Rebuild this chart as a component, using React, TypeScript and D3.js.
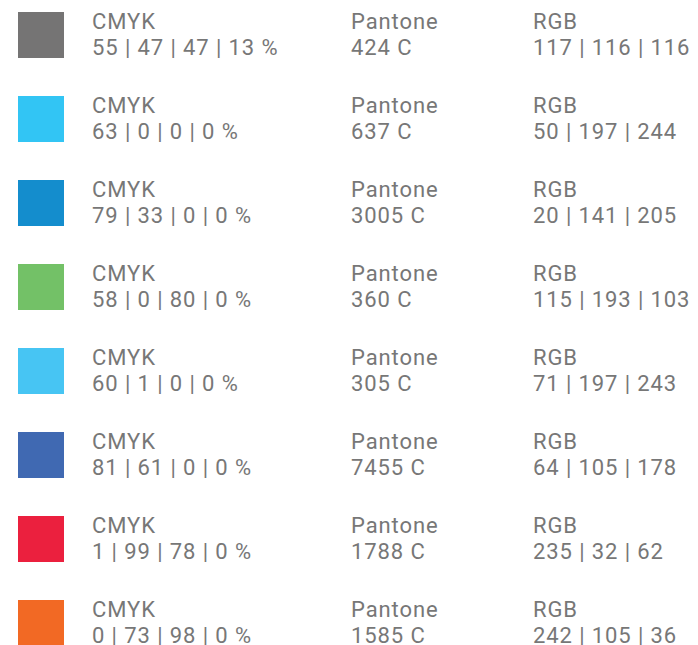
import React, { useRef, useEffect } from 'react';
import * as d3 from 'd3';

const swatchColors = ['#757474', '#32c5f4', '#148dcd', '#73c167', '#47c5f3', '#4069b2', '#eb203e', '#f26924'];
const cmykValues = ['55 | 47 | 47 | 13 %', '63 | 0 | 0 | 0 %', '79 | 33 | 0 | 0 %', '58 | 0 | 80 | 0 %', '60 | 1 | 0 | 0 %', '81 | 61 | 0 | 0 %', '1 | 99 | 78 | 0 %', '0 | 73 | 98 | 0 %'];
const pantoneValues = ['424 C', '637 C', '3005 C', '360 C', '305 C', '7455 C', '1788 C', '1585 C'];
const rgbValues = ['117 | 116 | 116', '50 | 197 | 244', '20 | 141 | 205', '115 | 193 | 103', '71 | 197 | 243', '64 | 105 | 178', '235 | 32 | 62', '242 | 105 | 36'];
const columnLabels = ['CMYK', 'Pantone', 'RGB'];

const width = 698;
const height = 645;

const App = () => {
  const svgRef = useRef<SVGSVGElement>(null);

  useEffect(() => {
    const svg = d3.select(svgRef.current);
    svg.selectAll('*').remove();

    const rows = d3.range(swatchColors.length);
    const yScale = d3.scaleLinear().domain([0, 1]).range([12, 96]);
    const xScale = d3.scaleOrdinal<string, number>().domain(columnLabels).range([92, 351, 533]);
    const columns = [cmykValues, pantoneValues, rgbValues];

    const g = svg.append('g');

    g.selectAll('.swatch')
      .data(rows)
      .enter().append('rect')
        .attr('class', 'swatch')
        .attr('x', 18)
        .attr('y', d => yScale(d))
        .attr('width', 46)
        .attr('height', 46)
        .attr('fill', d => swatchColors[d]);

    columnLabels.forEach((label, ci) => {
      const col = g.append('g');
      col.selectAll('.label')
        .data(rows)
        .enter().append('text')
          .attr('x', xScale(label))
          .attr('y', d => yScale(d) + 16.5)
          .text(label);
      col.selectAll('.value')
        .data(rows)
        .enter().append('text')
          .attr('x', xScale(label))
          .attr('y', d => yScale(d) + 43)
          .text(d => columns[ci][d]);
    });

    g.selectAll('text')
      .attr('font-family', 'Roboto, sans-serif')
      .attr('font-size', 22)
      .attr('letter-spacing', 0.9)
      .attr('fill', '#777777');
  }, []);

  return (
    <svg ref={svgRef} width={width} height={height} style={{ position: 'absolute', left: 0, top: 0 }}></svg>
  );
};

export default App;
